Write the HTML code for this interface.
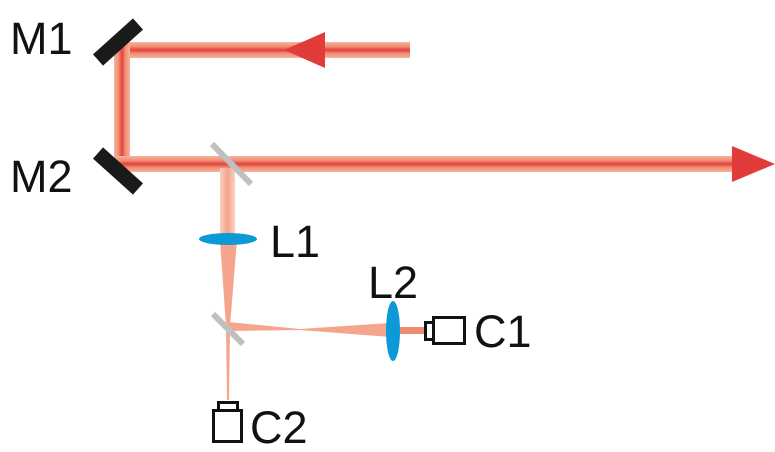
<!DOCTYPE html>
<html><head><meta charset="utf-8"><style>body{margin:0;background:#fff}svg{display:block}</style></head><body>
<svg width="775" height="452" viewBox="0 0 775 452" xmlns="http://www.w3.org/2000/svg" font-family="Liberation Sans, Arial, sans-serif">
<defs>
<linearGradient id="gh" x1="0" y1="0" x2="0" y2="1">
<stop offset="0" stop-color="#f6b49a"/><stop offset="0.3" stop-color="#ef8a72"/><stop offset="0.5" stop-color="#e2403c"/><stop offset="0.7" stop-color="#ef8a72"/><stop offset="1" stop-color="#f6b49a"/></linearGradient>
<linearGradient id="gv" x1="0" y1="0" x2="1" y2="0">
<stop offset="0" stop-color="#f6b49a"/><stop offset="0.3" stop-color="#ef8a72"/><stop offset="0.5" stop-color="#e2403c"/><stop offset="0.7" stop-color="#ef8a72"/><stop offset="1" stop-color="#f6b49a"/></linearGradient>
<linearGradient id="gl" x1="0" y1="0" x2="1" y2="0">
<stop offset="0" stop-color="#fbd0c0"/><stop offset="0.5" stop-color="#f4a58c"/><stop offset="1" stop-color="#fbd0c0"/></linearGradient>
</defs>
<rect x="114" y="42" width="296" height="16" fill="url(#gh)"/>
<rect x="114" y="42" width="16" height="130" fill="url(#gv)"/>
<rect x="114" y="156" width="620" height="16" fill="url(#gh)"/>
<polygon points="284,50 325,32 325,68" fill="#e23c3a"/>
<polygon points="775,164 732,146 732,182" fill="#e23c3a"/>
<rect x="220" y="168" width="15" height="68" fill="url(#gl)"/>
<polygon points="220,240 237,240 230,326 226,326" fill="#f4a58c"/>
<polygon points="226,326 230,326 229,400 227,400" fill="#f4a58c"/>
<polygon points="228,322 300,329 390,323 390,337 300,330 228,331" fill="#f4a58c"/>
<rect x="398" y="327" width="28" height="7" fill="#ee8a6e"/>
<line x1="98" y1="60" x2="138" y2="24" stroke="#1a1a1a" stroke-width="15"/>
<line x1="98" y1="153" x2="138" y2="189" stroke="#1a1a1a" stroke-width="15"/>
<line x1="212" y1="144" x2="251" y2="184" stroke="#c0c0c0" stroke-width="6"/>
<line x1="213" y1="314" x2="243" y2="344" stroke="#c0c0c0" stroke-width="6"/>
<ellipse cx="228" cy="239" rx="29" ry="6" fill="#0b9ad6"/>
<ellipse cx="393" cy="331" rx="7" ry="30" fill="#0b9ad6"/>
<rect x="425.5" y="322.5" width="8" height="17" fill="#fff" stroke="#111" stroke-width="3"/>
<rect x="433.5" y="317.5" width="31" height="26" fill="#fff" stroke="#111" stroke-width="3"/>
<rect x="218.5" y="402.5" width="19" height="8" fill="#fff" stroke="#111" stroke-width="3"/>
<rect x="213.5" y="410.5" width="28" height="31" fill="#fff" stroke="#111" stroke-width="3"/>
<g font-size="45" fill="#111">
<text x="10" y="54">M1</text>
<text x="10" y="192">M2</text>
<text x="270" y="257">L1</text>
<text x="368" y="298">L2</text>
<text x="474" y="347">C1</text>
<text x="250" y="443">C2</text>
</g>
</svg>
</body></html>
